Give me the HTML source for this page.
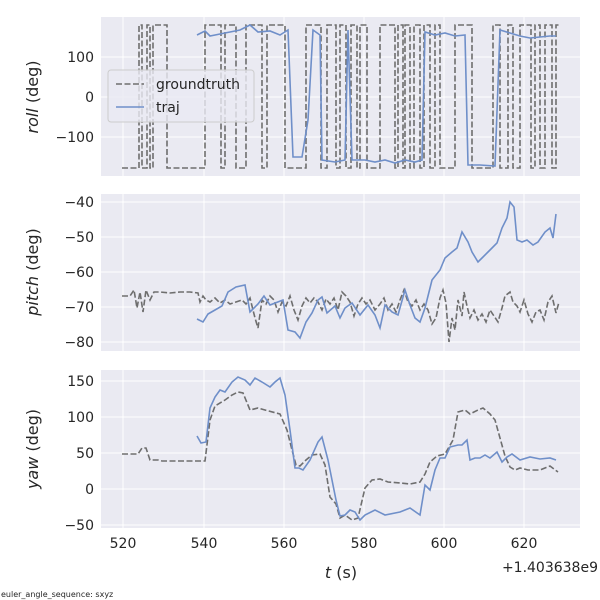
<!DOCTYPE html>
<html><head><meta charset="utf-8"><style>
body{margin:0;background:#fff;}
svg{display:block;font-family:"DejaVu Sans","Liberation Sans",sans-serif;}
.t{font-size:14px;fill:#262626;}
.l{font-size:16px;fill:#262626;}
.g{stroke:#fff;stroke-width:1;}
.gt{fill:none;stroke:#6e6e6e;stroke-width:1.6;stroke-dasharray:6,2.5;}
.tr{fill:none;stroke:#6f8fc9;stroke-width:1.6;}
</style></head><body>
<svg width="600" height="600" xmlns="http://www.w3.org/2000/svg">
<rect x="101" y="17" width="479" height="159" fill="#EAEAF2"/>
<rect x="101" y="194" width="479" height="157" fill="#EAEAF2"/>
<rect x="101" y="370" width="479" height="158" fill="#EAEAF2"/>
<g class="g">
<line x1="123" y1="17" x2="123" y2="176"/><line x1="204" y1="17" x2="204" y2="176"/><line x1="284" y1="17" x2="284" y2="176"/><line x1="364" y1="17" x2="364" y2="176"/><line x1="444" y1="17" x2="444" y2="176"/><line x1="524" y1="17" x2="524" y2="176"/>
<line x1="101" y1="57" x2="580" y2="57"/><line x1="101" y1="97" x2="580" y2="97"/><line x1="101" y1="137" x2="580" y2="137"/>
<line x1="123" y1="194" x2="123" y2="351"/><line x1="204" y1="194" x2="204" y2="351"/><line x1="284" y1="194" x2="284" y2="351"/><line x1="364" y1="194" x2="364" y2="351"/><line x1="444" y1="194" x2="444" y2="351"/><line x1="524" y1="194" x2="524" y2="351"/>
<line x1="101" y1="202" x2="580" y2="202"/><line x1="101" y1="237" x2="580" y2="237"/><line x1="101" y1="272" x2="580" y2="272"/><line x1="101" y1="307" x2="580" y2="307"/><line x1="101" y1="342" x2="580" y2="342"/>
<line x1="123" y1="370" x2="123" y2="528"/><line x1="204" y1="370" x2="204" y2="528"/><line x1="284" y1="370" x2="284" y2="528"/><line x1="364" y1="370" x2="364" y2="528"/><line x1="444" y1="370" x2="444" y2="528"/><line x1="524" y1="370" x2="524" y2="528"/>
<line x1="101" y1="381" x2="580" y2="381"/><line x1="101" y1="417" x2="580" y2="417"/><line x1="101" y1="453" x2="580" y2="453"/><line x1="101" y1="489" x2="580" y2="489"/><line x1="101" y1="525" x2="580" y2="525"/>
</g>
<!-- panel 1 -->
<path class="gt" d="M122,168 H139 V25 H142 V168 H147 V25 H150 V168 H153 V25 H167 V168 H205 V25 H221 V168 H225 V25 H236 V168 H246 V25 H262 V168 H267 V25 H285 V168 H306 V25 H321 V168 H327 V25 H336 V168 H340 V25 H346 V168 H351 V25 H357 V168 H360 V25 H367 V168 H380 V25 H395 V168 H398 V25 H403 V168 H405 V25 H410 V168 H414 V25 H420 V168 H424 V25 H430 V168 H435 V25 H440 V168 H455 V25 H472 V168 H493 V25 H500 V168 H508 V25 H513 V168 H520 V25 H531 V168 H535 V25 H540 V168 H545 V25 H552 V168 H556 V25 H559"/>
<polyline class="tr" points="197,35 205,31 210,36 225,33 240,30 250,25 258,32 270,31 280,35 288,30 293,157 302,157 308,120 313,30 320,35 322,160 335,162 345,160 348,30 352,160 365,160 375,162 385,160 395,163 405,160 415,162 422,160 425,32 435,35 445,33 455,36 465,35 468,165 480,165 495,166 500,30 510,33 520,36 530,38 540,37 550,36 556,36"/>
<!-- panel 2 -->
<polyline class="gt" points="122,296 130,296 134,290 137,308 140,292 143,312 146,290 150,300 154,292 160,292 170,293 180,292 190,292 198,293 200,302 203,296 206,300 210,302 215,298 220,303 225,300 230,304 236,302 242,300 246,304 250,298 255,318 258,328 262,300 266,304 270,296 274,300 278,312 282,302 286,306 290,296 294,310 298,320 302,306 306,298 310,303 314,298 318,302 322,310 326,299 330,304 334,298 338,310 342,292 346,296 350,302 354,316 358,304 362,298 366,304 370,300 375,310 380,304 384,298 388,310 392,304 396,312 400,300 404,290 408,302 412,306 416,300 420,310 424,304 428,310 432,324 436,318 440,298 443,290 446,303 449,342 452,318 455,330 458,300 462,316 464,292 467,306 470,318 474,310 478,320 482,314 486,322 490,310 494,316 498,322 502,308 505,296 510,292 513,302 517,306 520,312 524,300 528,314 532,322 536,312 540,310 544,320 548,302 552,296 556,313 559,302"/>
<polyline class="tr" points="197,319 203,322 208,314 215,310 222,306 228,292 236,287 245,285 250,312 258,304 264,296 270,305 283,300 288,330 295,332 300,338 306,322 312,313 318,300 322,297 327,313 335,306 340,318 345,308 352,303 360,315 368,305 375,315 380,328 385,305 392,312 398,315 405,290 410,305 415,318 420,322 425,308 432,280 440,270 445,258 452,252 457,248 462,232 468,242 472,252 478,262 482,258 488,252 492,248 497,243 502,228 507,218 510,202 514,207 517,240 522,242 527,240 533,245 538,242 545,232 550,228 553,238 556,214"/>
<!-- panel 3 -->
<polyline class="gt" points="122,454 138,454 142,448 146,448 150,460 158,460 162,461 175,461 190,461 205,461 210,420 215,406 225,400 232,395 238,392 243,393 250,410 258,408 265,410 280,414 287,430 292,450 296,465 300,466 306,460 312,455 320,454 325,465 330,497 336,504 340,518 345,515 352,520 358,518 365,488 372,480 380,479 388,482 400,483 410,484 420,482 425,474 430,462 437,456 445,454 453,440 458,412 465,410 470,414 478,410 483,408 490,414 495,420 505,456 510,467 515,470 520,468 528,470 540,470 550,466 558,472"/>
<polyline class="tr" points="197,436 201,443 206,442 210,408 215,397 220,390 225,392 232,382 238,377 245,380 250,385 255,378 262,382 270,387 275,382 280,378 285,395 290,430 295,468 299,468 303,470 310,460 318,442 322,437 328,460 332,480 336,500 340,516 345,515 350,510 355,512 360,520 365,515 375,510 385,515 400,512 410,508 420,515 425,485 430,490 435,470 440,458 445,458 450,447 458,445 462,445 467,440 470,460 475,458 480,458 485,455 490,458 497,452 502,462 507,457 512,454 520,460 530,457 540,459 550,458 556,460"/>
<!-- legend -->
<rect x="108" y="70" width="146" height="52" rx="3" fill="#EAEAF2" fill-opacity="0.8" stroke="#cccccc"/>
<line x1="116" y1="84" x2="144" y2="84" class="gt"/>
<line x1="116" y1="107" x2="144" y2="107" class="tr"/>
<text x="156" y="89" class="t">groundtruth</text>
<text x="156" y="112" class="t">traj</text>
<!-- y tick labels -->
<g class="t" text-anchor="end">
<text x="94" y="62">100</text><text x="94" y="102">0</text><text x="94" y="142">−100</text>
<text x="94" y="207">−40</text><text x="94" y="242">−50</text><text x="94" y="277">−60</text><text x="94" y="312">−70</text><text x="94" y="347">−80</text>
<text x="94" y="386">150</text><text x="94" y="422">100</text><text x="94" y="458">50</text><text x="94" y="494">0</text><text x="94" y="530">−50</text>
</g>
<g class="t" text-anchor="middle">
<text x="123" y="548">520</text><text x="204" y="548">540</text><text x="284" y="548">560</text><text x="364" y="548">580</text><text x="444" y="548">600</text><text x="524" y="548">620</text>
</g>
<text x="598" y="572" class="t" text-anchor="end">+1.403638e9</text>
<text x="341" y="578" class="l" text-anchor="middle"><tspan font-style="italic">t</tspan> (s)</text>
<text transform="translate(38,97) rotate(-90)" class="l" text-anchor="middle"><tspan font-style="italic">roll</tspan> (deg)</text>
<text transform="translate(38,272) rotate(-90)" class="l" text-anchor="middle"><tspan font-style="italic">pitch</tspan> (deg)</text>
<text transform="translate(38,449) rotate(-90)" class="l" text-anchor="middle"><tspan font-style="italic">yaw</tspan> (deg)</text>
<text x="1" y="597" font-size="8" fill="#262626">euler_angle_sequence: sxyz</text>
</svg>
</body></html>
